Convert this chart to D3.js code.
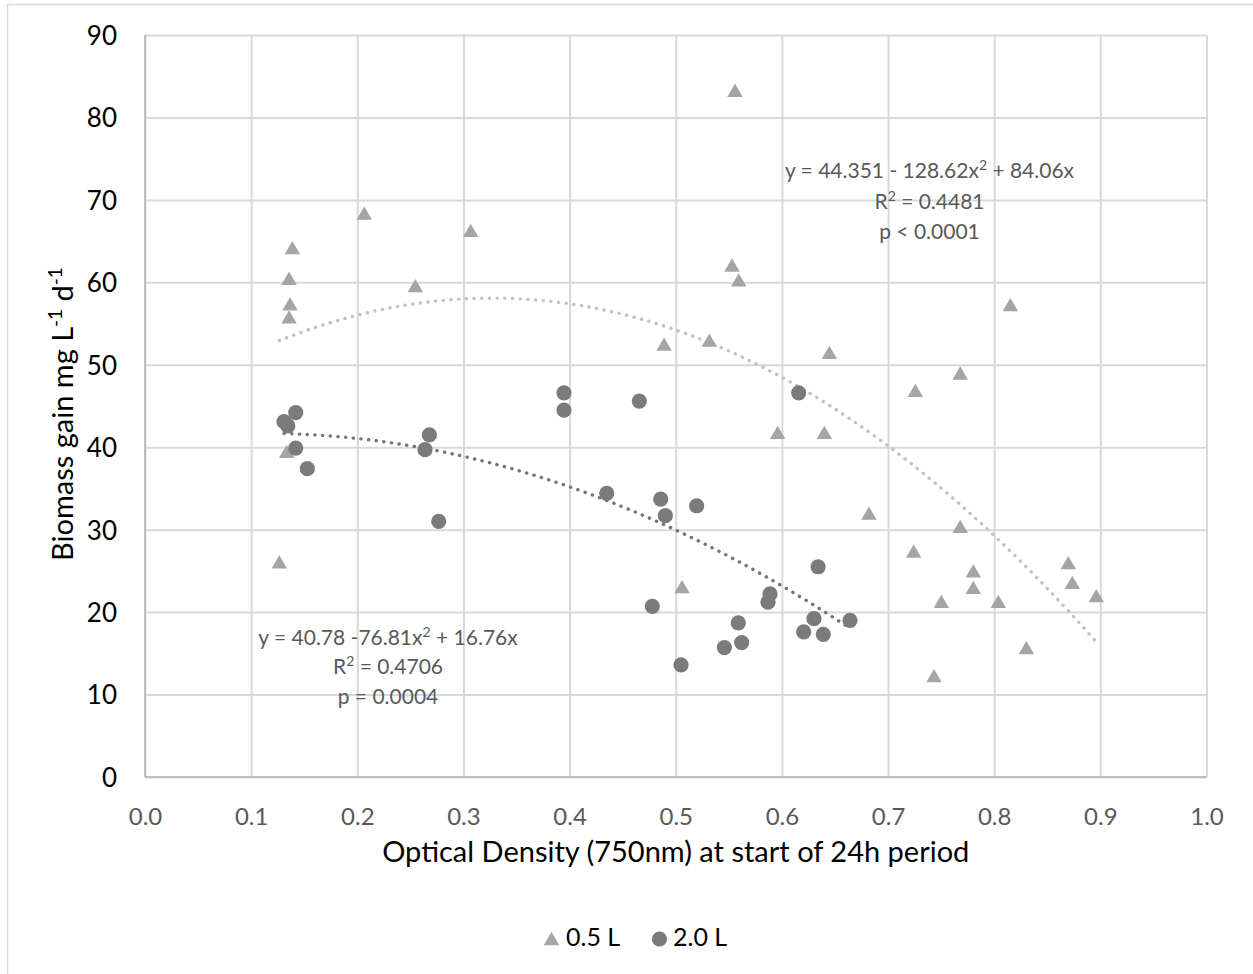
<!DOCTYPE html>
<html>
<head>
<meta charset="utf-8">
<script src="https://cdn.jsdelivr.net/npm/d3@7"></script>
<style>
  body { margin: 0; background: #fff; }
  svg { display: block; font-family: Lato, "Open Sans", sans-serif; }
</style>
</head>
<body>
<div id="chart"></div>
<script>
// 0.5 L culture vessels (triangles)
var odSmall = [0.1265, 0.1335, 0.1357, 0.1366, 0.1357, 0.1388, 0.2066, 0.2547, 0.3068, 0.489,
               0.5059, 0.5316, 0.553, 0.5558, 0.5593, 0.596, 0.640, 0.6447, 0.682, 0.7241,
               0.7257, 0.7433, 0.7502, 0.768, 0.768, 0.7803, 0.7803, 0.8039, 0.8152, 0.8303,
               0.8698, 0.8736, 0.8962];
var gainSmall = [26.1, 39.5, 55.8, 57.4, 60.5, 64.2, 68.4, 59.6, 66.3, 52.5,
                 23.1, 53.0, 62.1, 83.3, 60.3, 41.8, 41.8, 51.5, 32.0, 27.4,
                 46.9, 12.3, 21.3, 30.4, 49.0, 25.0, 23.0, 21.3, 57.3, 15.7,
                 26.0, 23.6, 22.0];

// 2.0 L culture vessels (circles)
var odLarge = [0.1310, 0.1345, 0.142, 0.142, 0.1529, 0.2638, 0.2679, 0.2767, 0.3947, 0.3947,
               0.435, 0.4657, 0.4779, 0.4858, 0.4902, 0.505, 0.5197, 0.5458, 0.5589, 0.5621,
               0.5869, 0.5888, 0.6158, 0.6205, 0.6302, 0.6341, 0.639, 0.6642];
var gainLarge = [43.1, 42.6, 44.2, 39.9, 37.4, 39.7, 41.5, 31.0, 46.6, 44.5,
                 34.4, 45.6, 20.7, 33.7, 31.7, 13.6, 32.9, 15.7, 18.7, 16.3,
                 21.2, 22.2, 46.6, 17.6, 19.2, 25.5, 17.3, 19.0];

// polynomial trendlines: [a, b, c] for a + b*x + c*x^2
var fitSmall = [44.351, 84.06, -128.62];
var fitLarge = [40.78, 16.76, -76.81];

// "^" marks a superscript 2
var eqSmall = ["y = 44.351 - 128.62x^ + 84.06x", "R^ = 0.4481", "p < 0.0001"];
var eqLarge = ["y = 40.78 -76.81x^ + 16.76x", "R^ = 0.4706", "p = 0.0004"];

var xTicks = [0, 0.1, 0.2, 0.3, 0.4, 0.5, 0.6, 0.7, 0.8, 0.9, 1.0];
var yTicks = [0, 10, 20, 30, 40, 50, 60, 70, 80, 90];
var seriesNames = ["0.5 L", "2.0 L"];

var W = 1253, H = 974;
var m = {left: 145, top: 35};
var w = 1061.5, h = 742;

var colSmall = "#a5a5a5", colLarge = "#7b7b7b";
var trendSmall = "#c3c3c3", trendLarge = "#767676";

var svg = d3.select("#chart").append("svg")
  .attr("width", W)
  .attr("height", H);

svg.append("rect")
  .attr("x", 7.5).attr("y", 4.5)
  .attr("width", W).attr("height", H)
  .style("fill", "#fff")
  .style("stroke", "#d9d9d9")
  .style("stroke-width", 1.5);

var g = svg.append("g")
  .attr("transform", "translate(" + m.left + "," + m.top + ")");

var x = d3.scaleLinear().domain([0, 1]).range([0, w]);
var y = d3.scaleLinear().domain([0, 90]).range([h, 0]);

// gridlines + tick labels
var yAxis = g.append("g")
  .call(d3.axisLeft(y).tickValues(yTicks).tickSize(-w).tickPadding(28).tickFormat(d3.format("d")));
yAxis.select(".domain").remove();
yAxis.selectAll("line").style("stroke", "#d9d9d9").style("stroke-width", 2);
yAxis.selectAll("text")
  .attr("dy", "0.36em")
  .attr("font-size", 26)
  .style("fill", "#000")
  .style("font-family", "Lato");

var xAxis = g.append("g")
  .attr("transform", "translate(0," + h + ")")
  .call(d3.axisBottom(x).tickValues(xTicks).tickSize(-h).tickPadding(31).tickFormat(d3.format(".1f")));
xAxis.select(".domain").remove();
xAxis.selectAll("line").style("stroke", "#d9d9d9").style("stroke-width", 2);
xAxis.selectAll("text")
  .attr("font-size", 24)
  .style("fill", "#595959")
  .style("font-family", "Lato");

// axis lines
g.append("line")
  .attr("x1", 0).attr("x2", 0).attr("y1", 0).attr("y2", h)
  .style("stroke", "#bfbfbf").style("stroke-width", 2);
g.append("line")
  .attr("x1", 0).attr("x2", w).attr("y1", h).attr("y2", h)
  .style("stroke", "#bfbfbf").style("stroke-width", 2);

// trendlines
function trendPoints(xs, c) {
  var lo = d3.min(xs), hi = d3.max(xs);
  return d3.range(0, 61).map(function(i){
    var t = lo + (hi - lo) * i / 60;
    return [t, c[0] + c[1] * t + c[2] * t * t];
  });
}
var line = d3.line()
  .x(function(d){ return x(d[0]); })
  .y(function(d){ return y(d[1]); });

g.append("path")
  .datum(trendPoints(odSmall, fitSmall))
  .attr("d", line)
  .style("fill", "none")
  .style("stroke", trendSmall)
  .style("stroke-width", 3.4)
  .style("stroke-linecap", "round")
  .style("stroke-dasharray", "0.2 7.5");

g.append("path")
  .datum(trendPoints(odLarge, fitLarge))
  .attr("d", line)
  .style("fill", "none")
  .style("stroke", trendLarge)
  .style("stroke-width", 3.4)
  .style("stroke-linecap", "round")
  .style("stroke-dasharray", "0.2 7.5");

// markers
function triPath(s) {
  var hh = s * 0.43;
  return "M0," + (-hh) + "L" + (s / 2) + "," + hh + "L" + (-s / 2) + "," + hh + "Z";
}

var small = odSmall.map(function(d, i){ return [d, gainSmall[i]]; });
var large = odLarge.map(function(d, i){ return [d, gainLarge[i]]; });

g.selectAll(".tri")
  .data(small)
  .enter().append("path")
  .attr("class", "tri")
  .attr("d", triPath(15.5))
  .attr("transform", function(d){ return "translate(" + x(d[0]) + "," + y(d[1]) + ")"; })
  .style("fill", colSmall);

g.selectAll(".dot")
  .data(large)
  .enter().append("circle")
  .attr("class", "dot")
  .attr("cx", function(d){ return x(d[0]); })
  .attr("cy", function(d){ return y(d[1]); })
  .attr("r", 7.6)
  .style("fill", colLarge);

// trendline equations
function eqBlock(lines, cx, ys) {
  lines.forEach(function(t, i){
    var txt = svg.append("text")
      .attr("x", cx)
      .attr("y", ys[i])
      .attr("text-anchor", "middle")
      .attr("font-size", 21)
      .style("fill", "#595959");
    var parts = t.split("^");
    parts.forEach(function(p, j){
      if (j > 0) {
        txt.append("tspan").attr("dy", -8).attr("font-size", 14).text("2");
        txt.append("tspan").attr("dy", 8).text(p);
      } else {
        txt.append("tspan").text(p);
      }
    });
  });
}
eqBlock(eqSmall, 929.5, [178, 209, 239]);
eqBlock(eqLarge, 388, [645, 674, 704]);

// axis titles
svg.append("text")
  .attr("x", m.left + w / 2)
  .attr("y", 862)
  .attr("text-anchor", "middle")
  .attr("font-size", 29)
  .style("fill", "#000")
  .text("Optical Density (750nm) at start of 24h period");

var yt = svg.append("text")
  .attr("transform", "translate(73," + (m.top + h / 2 + 8) + ") rotate(-90)")
  .attr("text-anchor", "middle")
  .attr("font-size", 29)
  .style("fill", "#000");
yt.append("tspan").text("Biomass gain mg L");
yt.append("tspan").attr("dy", -11).attr("font-size", 19).text("-1");
yt.append("tspan").attr("dy", 11).text(" d");
yt.append("tspan").attr("dy", -11).attr("font-size", 19).text("-1");

// legend
var leg = svg.append("g");
leg.append("path")
  .attr("d", triPath(15.5))
  .attr("transform", "translate(551.5,938.5)")
  .style("fill", colSmall);
leg.append("text")
  .attr("x", 566).attr("y", 946)
  .attr("font-size", 25)
  .style("fill", "#000")
  .text(seriesNames[0]);
leg.append("circle")
  .attr("cx", 659.5).attr("cy", 939)
  .attr("r", 7.6)
  .style("fill", colLarge);
leg.append("text")
  .attr("x", 673).attr("y", 946)
  .attr("font-size", 25)
  .style("fill", "#000")
  .text(seriesNames[1]);
</script>
</body>
</html>
